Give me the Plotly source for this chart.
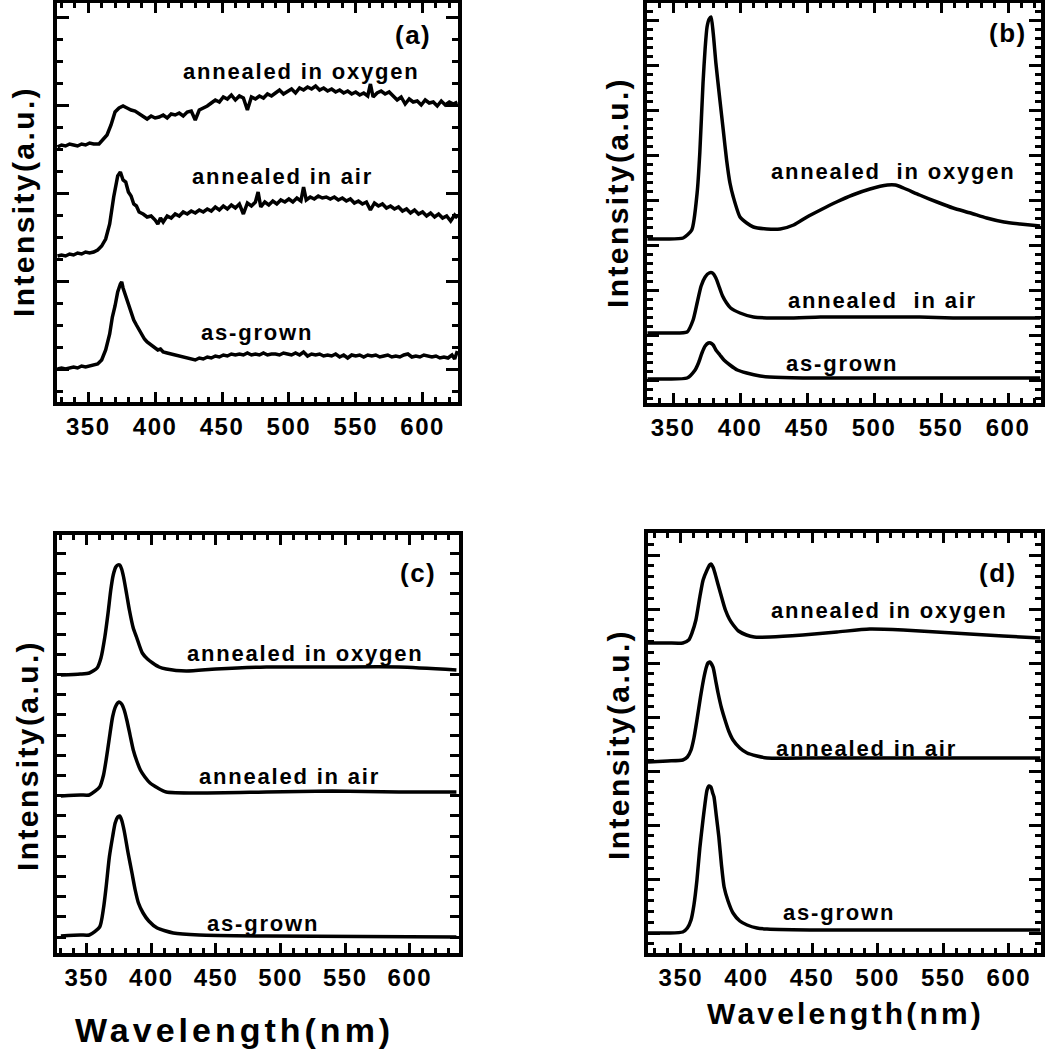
import plotly.graph_objects as go

W, H = 1045, 1063
FONT = "Liberation Sans"

# ---------------- data ----------------
x_ticks = [350, 400, 450, 500, 550, 600]
x_tick_labels = ["350", "400", "450", "500", "550", "600"]

# panel (a) - noisy spectra
a_oxy_x = [327, 330, 333, 336, 339, 342, 345, 348, 351, 354, 358, 361, 364, 367, 370, 373, 376, 379, 382, 385,
           388, 391, 394, 397, 400, 403, 406, 409, 412, 415, 418, 421, 424, 427, 430, 433, 436, 439, 442, 445,
           448, 451, 454, 457, 460, 463, 466, 469, 472, 475, 478, 481, 484, 487, 490, 493, 496, 499, 502, 505,
           508, 511, 514, 517, 520, 523, 526, 529, 532, 535, 538, 541, 544, 547, 550, 553, 556, 559, 561, 563,
           566, 569, 572, 575, 578, 581, 584, 587, 590, 593, 596, 599, 602, 605, 608, 611, 614, 617, 620, 623, 626]
a_oxy_y = [255, 257, 256, 258, 257, 256, 258, 257, 259, 258, 258, 262, 267, 277, 290, 294, 296, 294, 292, 291,
           288, 285, 283, 286, 284, 285, 287, 284, 288, 287, 289, 286, 290, 291, 282, 292, 294, 296, 299, 302,
           300, 305, 303, 307, 302, 306, 304, 292, 305, 303, 306, 304, 308, 306, 309, 312, 308, 311, 313, 309,
           314, 312, 315, 313, 316, 312, 314, 311, 313, 310, 312, 309, 311, 308, 310, 307, 309, 306, 318, 305,
           309, 311, 308, 310, 306, 302, 305, 298, 303, 300, 301, 297, 302, 299, 300, 296, 301, 297, 300, 298, 300]

a_air_x = [327, 330, 333, 336, 339, 342, 345, 348, 351, 354, 357, 360, 363, 366, 369, 372, 374, 376, 378, 380,
           382, 384, 386, 388, 391, 394, 397, 400, 402, 404, 406, 409, 412, 415, 418, 421, 424, 427, 430, 433,
           436, 439, 442, 445, 448, 451, 454, 457, 460, 463, 466, 469, 472, 475, 477, 479, 482, 485, 488, 491,
           494, 497, 500, 503, 506, 509, 511, 513, 516, 519, 522, 525, 528, 531, 534, 537, 540, 543, 546, 549,
           552, 555, 558, 561, 564, 567, 570, 573, 576, 579, 582, 585, 588, 591, 594, 597, 600, 603, 606, 609,
           612, 615, 618, 621, 624, 626]
a_air_y = [146, 147, 146, 148, 147, 149, 148, 150, 149, 150, 152, 156, 163, 178, 205, 226, 230, 222, 220, 210,
           206, 198, 196, 190, 188, 185, 186, 182, 178, 184, 180, 186, 184, 188, 186, 190, 188, 191, 189, 192,
           190, 193, 191, 195, 192, 196, 193, 197, 194, 198, 188, 199, 196, 200, 210, 195, 200, 197, 201, 198,
           202, 200, 203, 200, 204, 201, 215, 202, 205, 203, 206, 204, 205, 203, 205, 202, 204, 201, 203, 199,
           201, 198, 200, 192, 199, 196, 198, 194, 196, 193, 195, 191, 193, 189, 192, 188, 190, 186, 189, 185,
           188, 184, 186, 181, 187, 184]

a_grown_x = [327, 330, 333, 336, 339, 342, 345, 348, 351, 354, 357, 360, 363, 366, 368, 370, 372, 374, 375, 376,
             378, 380, 382, 384, 386, 388, 390, 392, 394, 396, 398, 400, 402, 404, 406, 409, 412, 415, 418, 421,
             424, 427, 430, 433, 436, 439, 442, 445, 448, 451, 454, 457, 460, 463, 466, 469, 472, 475, 478, 481,
             484, 487, 490, 493, 496, 499, 502, 505, 508, 511, 514, 517, 520, 523, 526, 529, 532, 535, 538, 541,
             544, 547, 550, 553, 556, 559, 562, 565, 568, 571, 574, 577, 580, 583, 586, 589, 592, 595, 598, 601,
             604, 607, 610, 613, 616, 619, 622, 624, 626]
a_grown_y = [33, 34, 33, 34, 35, 34, 36, 35, 36, 37, 38, 42, 52, 68, 85, 96, 110, 118, 120, 114,
             106, 98, 90, 82, 77, 72, 68, 63, 60, 58, 56, 55, 52, 53, 50, 49, 48, 47, 46, 45,
             44, 43, 42, 44, 43, 45, 44, 46, 45, 47, 46, 48, 47, 48, 47, 49, 47, 48, 47, 49,
             47, 48, 48, 47, 49, 48, 47, 49, 47, 50, 46, 48, 47, 48, 46, 47, 46, 48, 45, 47,
             44, 47, 46, 47, 45, 47, 46, 47, 45, 46, 47, 45, 46, 45, 47, 48, 45, 46, 45, 47,
             46, 45, 46, 44, 45, 44, 47, 43, 51]

# panel (b)
b_oxy_x = [331, 345, 357.6, 364, 368, 370, 372.4, 374, 375.4, 377, 378.4, 380, 382, 385, 387.5, 390, 392.5, 395,
           400, 405, 410, 420, 430, 440, 450, 460, 472, 484, 497, 510, 516, 522, 534, 547, 559, 572, 584, 597, 609, 624]
b_oxy_y = [164, 164, 165, 173, 210, 250, 320, 355, 376, 384, 386, 370, 340, 303, 273, 243, 220, 206,
           186, 180, 176, 174, 174, 178, 186, 193, 201, 208, 214, 218, 218, 215, 208, 201, 195, 190, 185, 181, 179, 177]
b_air_x = [331, 345, 360.5, 365, 368, 371, 374, 377, 379.5, 382, 384.5, 387, 390, 393, 400, 410, 435, 460,
           484, 510, 534, 559, 584, 624]
b_air_y = [70, 70, 71, 83, 100, 117, 126, 130, 130, 125, 116, 107, 100, 95, 90, 86, 85, 86,
           86, 86, 86, 85, 85, 85]
b_grown_x = [331, 345, 360.5, 366.5, 369, 371.6, 374, 376.4, 378, 380, 382, 385, 388, 392.5, 398, 405, 415, 422,
             447, 484, 624]
b_grown_y = [24, 24, 25, 33, 40, 50, 57, 60, 60, 58, 53, 48, 43, 38, 33, 30, 27, 26,
             25, 25, 25]

# panel (c)
c_oxy_x = [330, 345, 352, 358, 361, 364, 366.5, 368.6, 370.5, 372.5, 374, 375.5, 377, 378.5, 381, 383, 386, 388.5,
           393, 397, 401, 406, 411.5, 427, 450, 489, 540, 591.5, 636]
c_oxy_y = [278, 279, 280, 285, 295, 316, 340, 363, 378, 386, 388, 388, 384, 376, 358, 343, 325, 316,
           300, 294, 290, 286, 284, 282, 284, 286, 286, 286, 283]
c_air_x = [330, 345, 352, 360, 363, 365, 367.5, 370, 372.5, 375, 377, 379, 381, 383.5, 386, 389, 391.5, 395,
           399, 405, 411.5, 437, 489, 540, 591.5, 636]
c_air_y = [157, 158, 158, 166, 178, 193, 215, 236, 247, 251, 249, 243, 233, 218, 203, 191, 183, 176,
           170, 165, 161, 160, 161, 162, 161, 161]
c_grown_x = [330, 345, 352, 360, 363, 365, 367.5, 370, 372, 374, 375.5, 377, 379, 382, 385, 387.5, 390, 393.6,
             398, 404.5, 417, 437, 489, 636]
c_grown_y = [17, 18, 18, 26, 45, 66, 96, 116, 130, 136, 137, 133, 122, 100, 80, 63, 50, 40,
             32, 25, 20, 18, 17, 16]

# panel (d)
d_oxy_x = [325, 340, 351.5, 356, 358.5, 361.5, 364.5, 367, 370, 372, 373, 374.5, 376, 378.5, 381.5, 384, 387, 390,
           394, 400, 406, 418, 443, 469, 494, 519.5, 545, 570, 595.6, 624]
d_oxy_y = [310, 310, 310, 313, 320, 333, 356, 373, 383, 388, 389, 386, 380, 368, 354, 343, 334, 328,
           322, 318, 316, 316, 318, 321, 324, 323, 321, 319, 317, 315]
d_air_x = [325, 340, 351.5, 355, 357.8, 360, 362.3, 365, 367.7, 369.5, 370.7, 372, 374.5, 376.5, 378.4, 381, 383.7,
           386.5, 389.8, 395, 400.5, 408, 415.7, 456, 507, 557.5, 624]
d_air_y = [191, 192, 193, 196, 203, 215, 233, 256, 276, 286, 290, 291, 286, 273, 260, 245, 233,
           222, 213, 205, 200, 197, 195, 195, 195, 195, 195]
d_grown_x = [325, 340, 351.5, 355, 357.8, 360, 362.3, 364.5, 366.9, 368.5, 370, 371.5, 373, 374.3, 375.3, 377, 379,
             381, 383, 386, 389.8, 395, 400.5, 408, 415.7, 456, 624]
d_grown_y = [20, 20, 21, 25, 33, 48, 73, 105, 133, 150, 163, 167, 166, 160, 156, 138, 116,
             88, 66, 52, 40, 32, 28, 25, 24, 23, 23]

labels = ["annealed in oxygen", "annealed in air", "as-grown"]
labels_b = ["annealed\u00a0 in oxygen", "annealed\u00a0 in air", "as-grown"]
panel_tags = ["(a)", "(b)", "(c)", "(d)"]
y_title = "Intensity(a.u.)"
x_title = "Wavelength(nm)"

# ---------------- layout helpers ----------------
def sp(text, ls):
    return f'<b><span style="letter-spacing:{ls}px">{text}</span></b>'

# frame pixel boxes: (left, top, right, bottom)
boxes = {
    1: (57, 3, 458, 402),
    2: (647, 3, 1041, 403),
    3: (57, 535, 459, 953),
    4: (648, 533, 1041, 953),
}
xranges = {1: [326.6, 626.5], 2: [330.6, 624.6], 3: [327, 638], 4: [325, 624.5]}
yranges = {1: [0, 399], 2: [0, 400], 3: [0, 418], 4: [0, 420]}
ymajor = {1: (33, 88), 2: (23, 45), 3: (16, 20.2), 4: (20, 54)}
yminor = {1: (11, 22), 2: (23, 9), 3: None, 4: (20, 10.8)}

fig = go.Figure()
series = {
    1: [(a_oxy_x, a_oxy_y), (a_air_x, a_air_y), (a_grown_x, a_grown_y)],
    2: [(b_oxy_x, b_oxy_y), (b_air_x, b_air_y), (b_grown_x, b_grown_y)],
    3: [(c_oxy_x, c_oxy_y), (c_air_x, c_air_y), (c_grown_x, c_grown_y)],
    4: [(d_oxy_x, d_oxy_y), (d_air_x, d_air_y), (d_grown_x, d_grown_y)],
}
for k, lst in series.items():
    suf = "" if k == 1 else str(k)
    for (xs, ys) in lst:
        fig.add_trace(go.Scatter(
            x=xs, y=ys, mode="lines",
            line=dict(color="black", width=3.5, shape="linear" if k == 1 else "spline", smoothing=0.6),
            xaxis="x" + suf, yaxis="y" + suf, showlegend=False, hoverinfo="skip"))

tickfont = dict(family=FONT, size=24, color="black")
layout = dict(width=W, height=H, margin=dict(l=0, r=0, t=0, b=0, autoexpand=False),
              paper_bgcolor="white", plot_bgcolor="white", showlegend=False)

for k, (l, t, r, b) in boxes.items():
    suf = "" if k == 1 else str(k)
    xa = dict(domain=[l / W, r / W], range=xranges[k], anchor="y" + suf,
              tickmode="array", tickvals=x_ticks, ticktext=[sp(s, 1.5) for s in x_tick_labels],
              ticks="inside", ticklen=10, tickwidth=3, tickcolor="black",
              showline=True, linewidth=4, linecolor="black", mirror="ticks",
              showgrid=False, zeroline=False, tickfont=tickfont,
              minor=dict(tickmode="linear", tick0=350, dtick=10, ticks="inside", ticklen=5,
                         tickwidth=3, tickcolor="black", showgrid=False))
    y0, yd = ymajor[k]
    ya = dict(domain=[1 - b / H, 1 - t / H], range=yranges[k], anchor="x" + suf,
              tickmode="linear", tick0=y0, dtick=yd, ticks="inside",
              ticklen=12 if yminor[k] else 9, tickwidth=3, tickcolor="black",
              showline=True, linewidth=4, linecolor="black", mirror="ticks",
              showgrid=False, zeroline=False, showticklabels=False)
    if yminor[k]:
        m0, md = yminor[k]
        ya["minor"] = dict(tickmode="linear", tick0=m0, dtick=md, ticks="inside", ticklen=6,
                           tickwidth=3, tickcolor="black", showgrid=False)
    layout["xaxis" + suf] = xa
    layout["yaxis" + suf] = ya

ann = []
def add(text, x, y, size, ls, xref, yref, angle=0):
    ann.append(dict(text=sp(text, ls), x=x, y=y, xref=xref, yref=yref, showarrow=False,
                    xanchor="center", yanchor="middle", textangle=angle,
                    font=dict(family=FONT, size=size, color="black")))

# in-panel labels (data coordinates)
lab_pos = {
    1: [(509.8, 330), (495.6, 225), (476.2, 70), (592.9, 367)],
    2: [(514.2, 231), (506, 103), (476, 40), (600, 370)],
    3: [(519.6, 300), (507.2, 177), (486.3, 30), (606.2, 380)],
    4: [(508.7, 343), (491.2, 205), (470.6, 41), (591.8, 380)],
}
for k, pos in lab_pos.items():
    suf = "" if k == 1 else str(k)
    txts = labels_b if k == 2 else labels
    for txt, (px, py) in zip(txts, pos[:3]):
        add(txt, px, py, 22, 1.8, "x" + suf, "y" + suf)
    add(panel_tags[k - 1], pos[3][0], pos[3][1], 26, 1.5, "x" + suf, "y" + suf)

# axis titles (paper coordinates)
for (cx, cy) in [(23, 202), (617, 193), (27, 756), (618, 745)]:
    add(y_title, cx / W, 1 - cy / H, 30, 2.4, "paper", "paper", angle=-90)
add(x_title, 234 / W, 1 - 1030 / H, 34, 4, "paper", "paper")
add(x_title, 845 / W, 1 - 1013 / H, 30, 3.2, "paper", "paper")

layout["annotations"] = ann
fig.update_layout(**layout)
fig.write_html("out.html", config={"displayModeBar": False},
               post_script="document.body.style.margin='0';document.body.style.overflow='hidden';")
